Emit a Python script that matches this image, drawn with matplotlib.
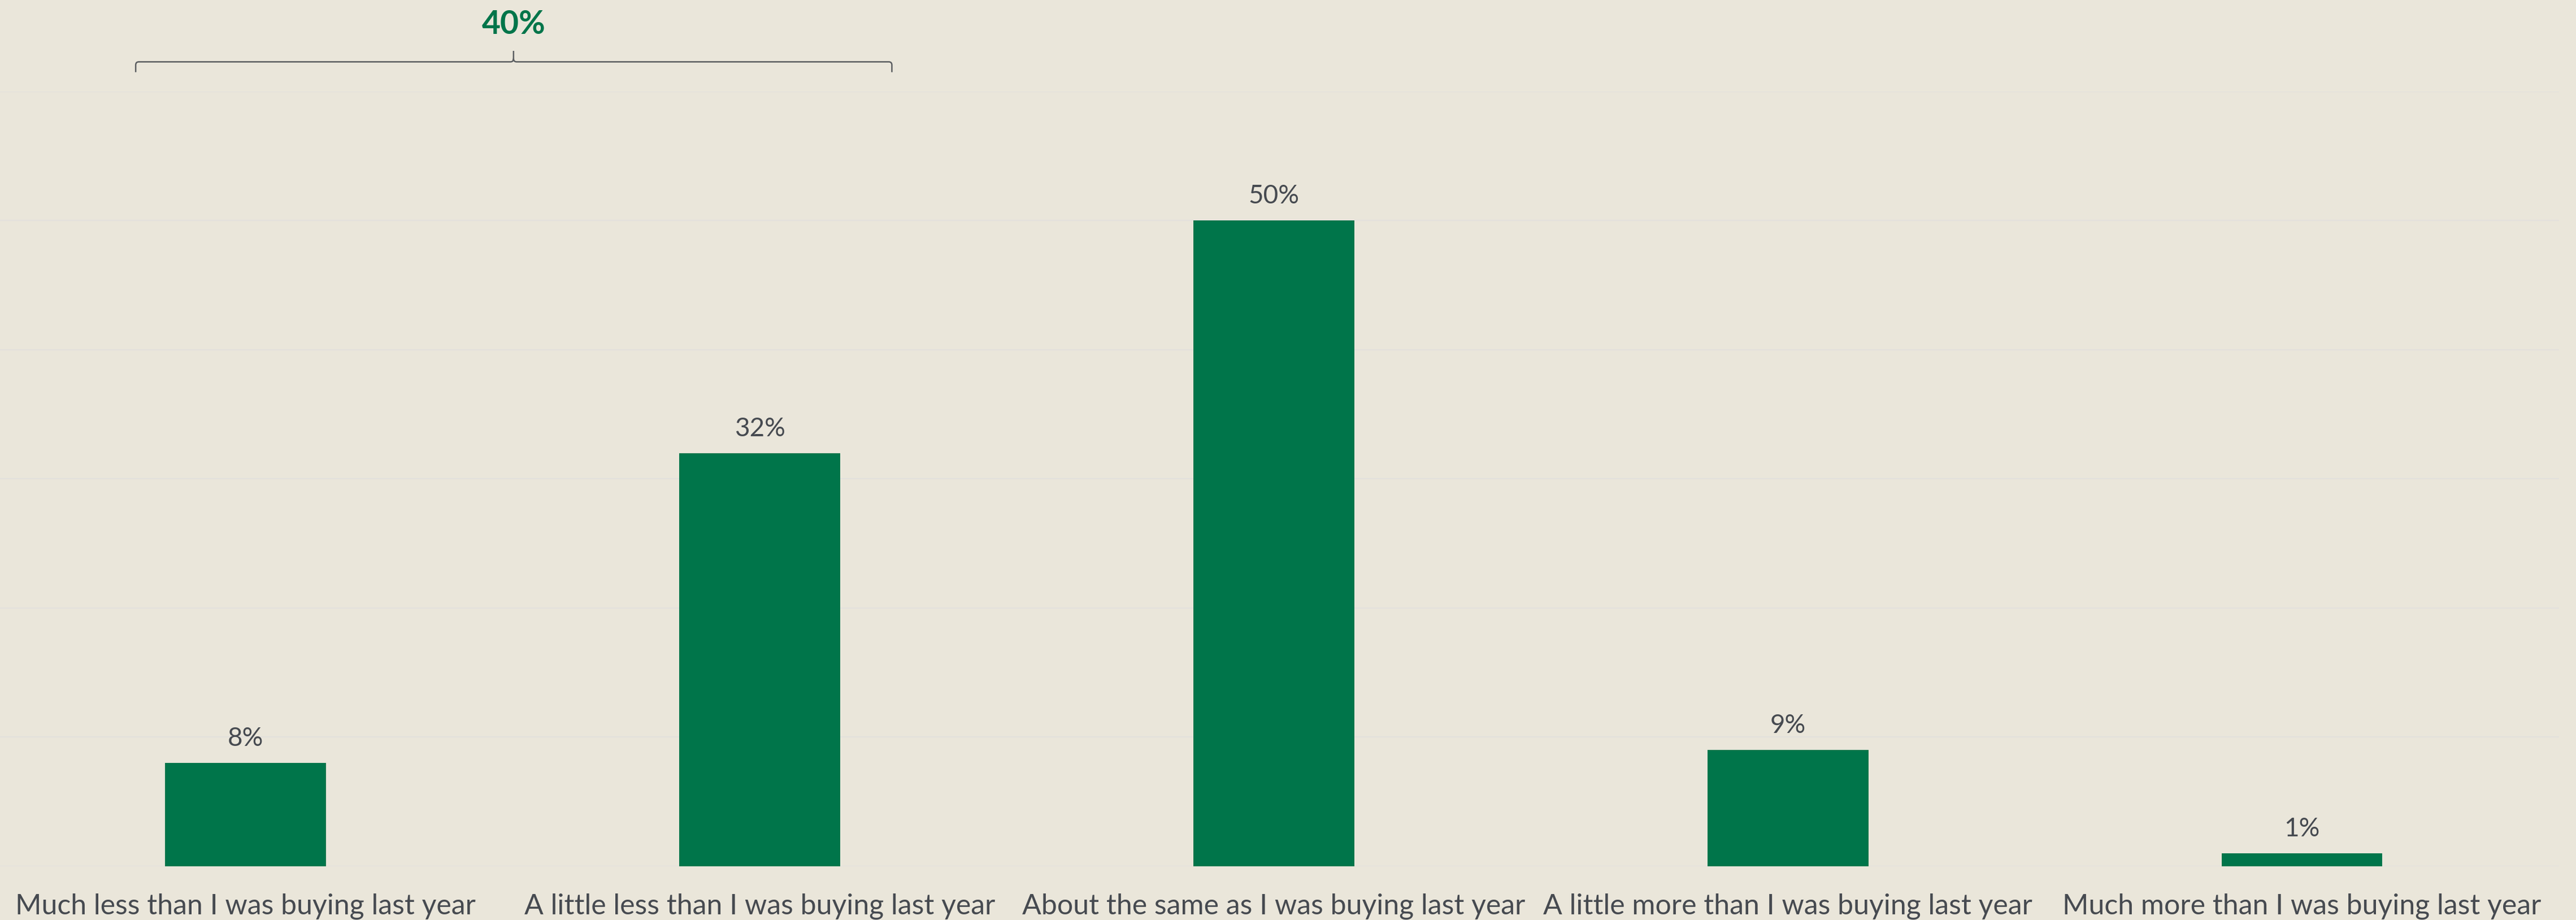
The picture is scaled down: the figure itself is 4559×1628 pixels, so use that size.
import matplotlib.pyplot as plt
from matplotlib.path import Path
from matplotlib.patches import PathPatch

categories = ['Much less than I was buying last year',
              'A little less than I was buying last year',
              'About the same as I was buying last year',
              'A little more than I was buying last year',
              'Much more than I was buying last year']
values = [8, 32, 50, 9, 1]
bracket_label = '40%'

bg = '#eae6da'
green = '#00754a'
text_col = '#464a50'

plt.rcParams['font.family'] = ['Lato', 'DejaVu Sans']

fig = plt.figure(figsize=(45.59, 16.28), dpi=100)
fig.patch.set_facecolor(bg)
ax = fig.add_axes([-0.0044, 0.0584, 0.9978, 0.8421])
ax.set_facecolor(bg)

x = list(range(len(categories)))
bars = ax.bar(x, values, width=0.313, color=green, zorder=3)

for b, v in zip(bars, values):
    ax.annotate(f'{v}%', (b.get_x() + b.get_width() / 2, v),
                xytext=(0, 31), textcoords='offset points',
                ha='center', va='center', fontsize=33, color=text_col)

ax.set_xlim(-0.5, 4.5)
ax.set_ylim(0, 60)
ax.set_yticks(range(0, 61, 10))
ax.yaxis.grid(True, color='#e3e1dc', linewidth=1.6, zorder=0)
ax.tick_params(axis='y', left=False, labelleft=False)
ax.tick_params(axis='x', length=0, pad=61)
ax.set_xticks(x)
ax.set_xticklabels(categories, fontsize=36, color=text_col)
for lbl in ax.get_xticklabels():
    lbl.set_va('baseline')
for s in ax.spines.values():
    s.set_visible(False)

# bracket over the first two bars
xl, xr, xm = -0.214, 1.257, 0.521
yb, yh, yt = 61.5, 62.3, 63.15
r = 0.006
verts = [(xl, yb), (xl, yh - 0.25), (xl, yh), (xl + r, yh),
         (xm - r, yh), (xm, yh), (xm, yh + 0.25), (xm, yt),
         (xm, yh + 0.25), (xm, yh), (xm + r, yh),
         (xr - r, yh), (xr, yh), (xr, yh - 0.25), (xr, yb)]
codes = [Path.MOVETO, Path.LINETO, Path.CURVE3, Path.CURVE3,
         Path.LINETO, Path.CURVE3, Path.CURVE3, Path.LINETO,
         Path.MOVETO, Path.CURVE3, Path.CURVE3,
         Path.LINETO, Path.CURVE3, Path.CURVE3, Path.LINETO]
ax.add_patch(PathPatch(Path(verts, codes), fill=False, edgecolor='#5a5d60',
                       linewidth=1.8, clip_on=False))
ax.text(xm, 65.2, bracket_label, ha='center', va='center', fontsize=41,
        fontweight='bold', color=green, clip_on=False)

fig.savefig('out.png', dpi=100, facecolor=bg)
